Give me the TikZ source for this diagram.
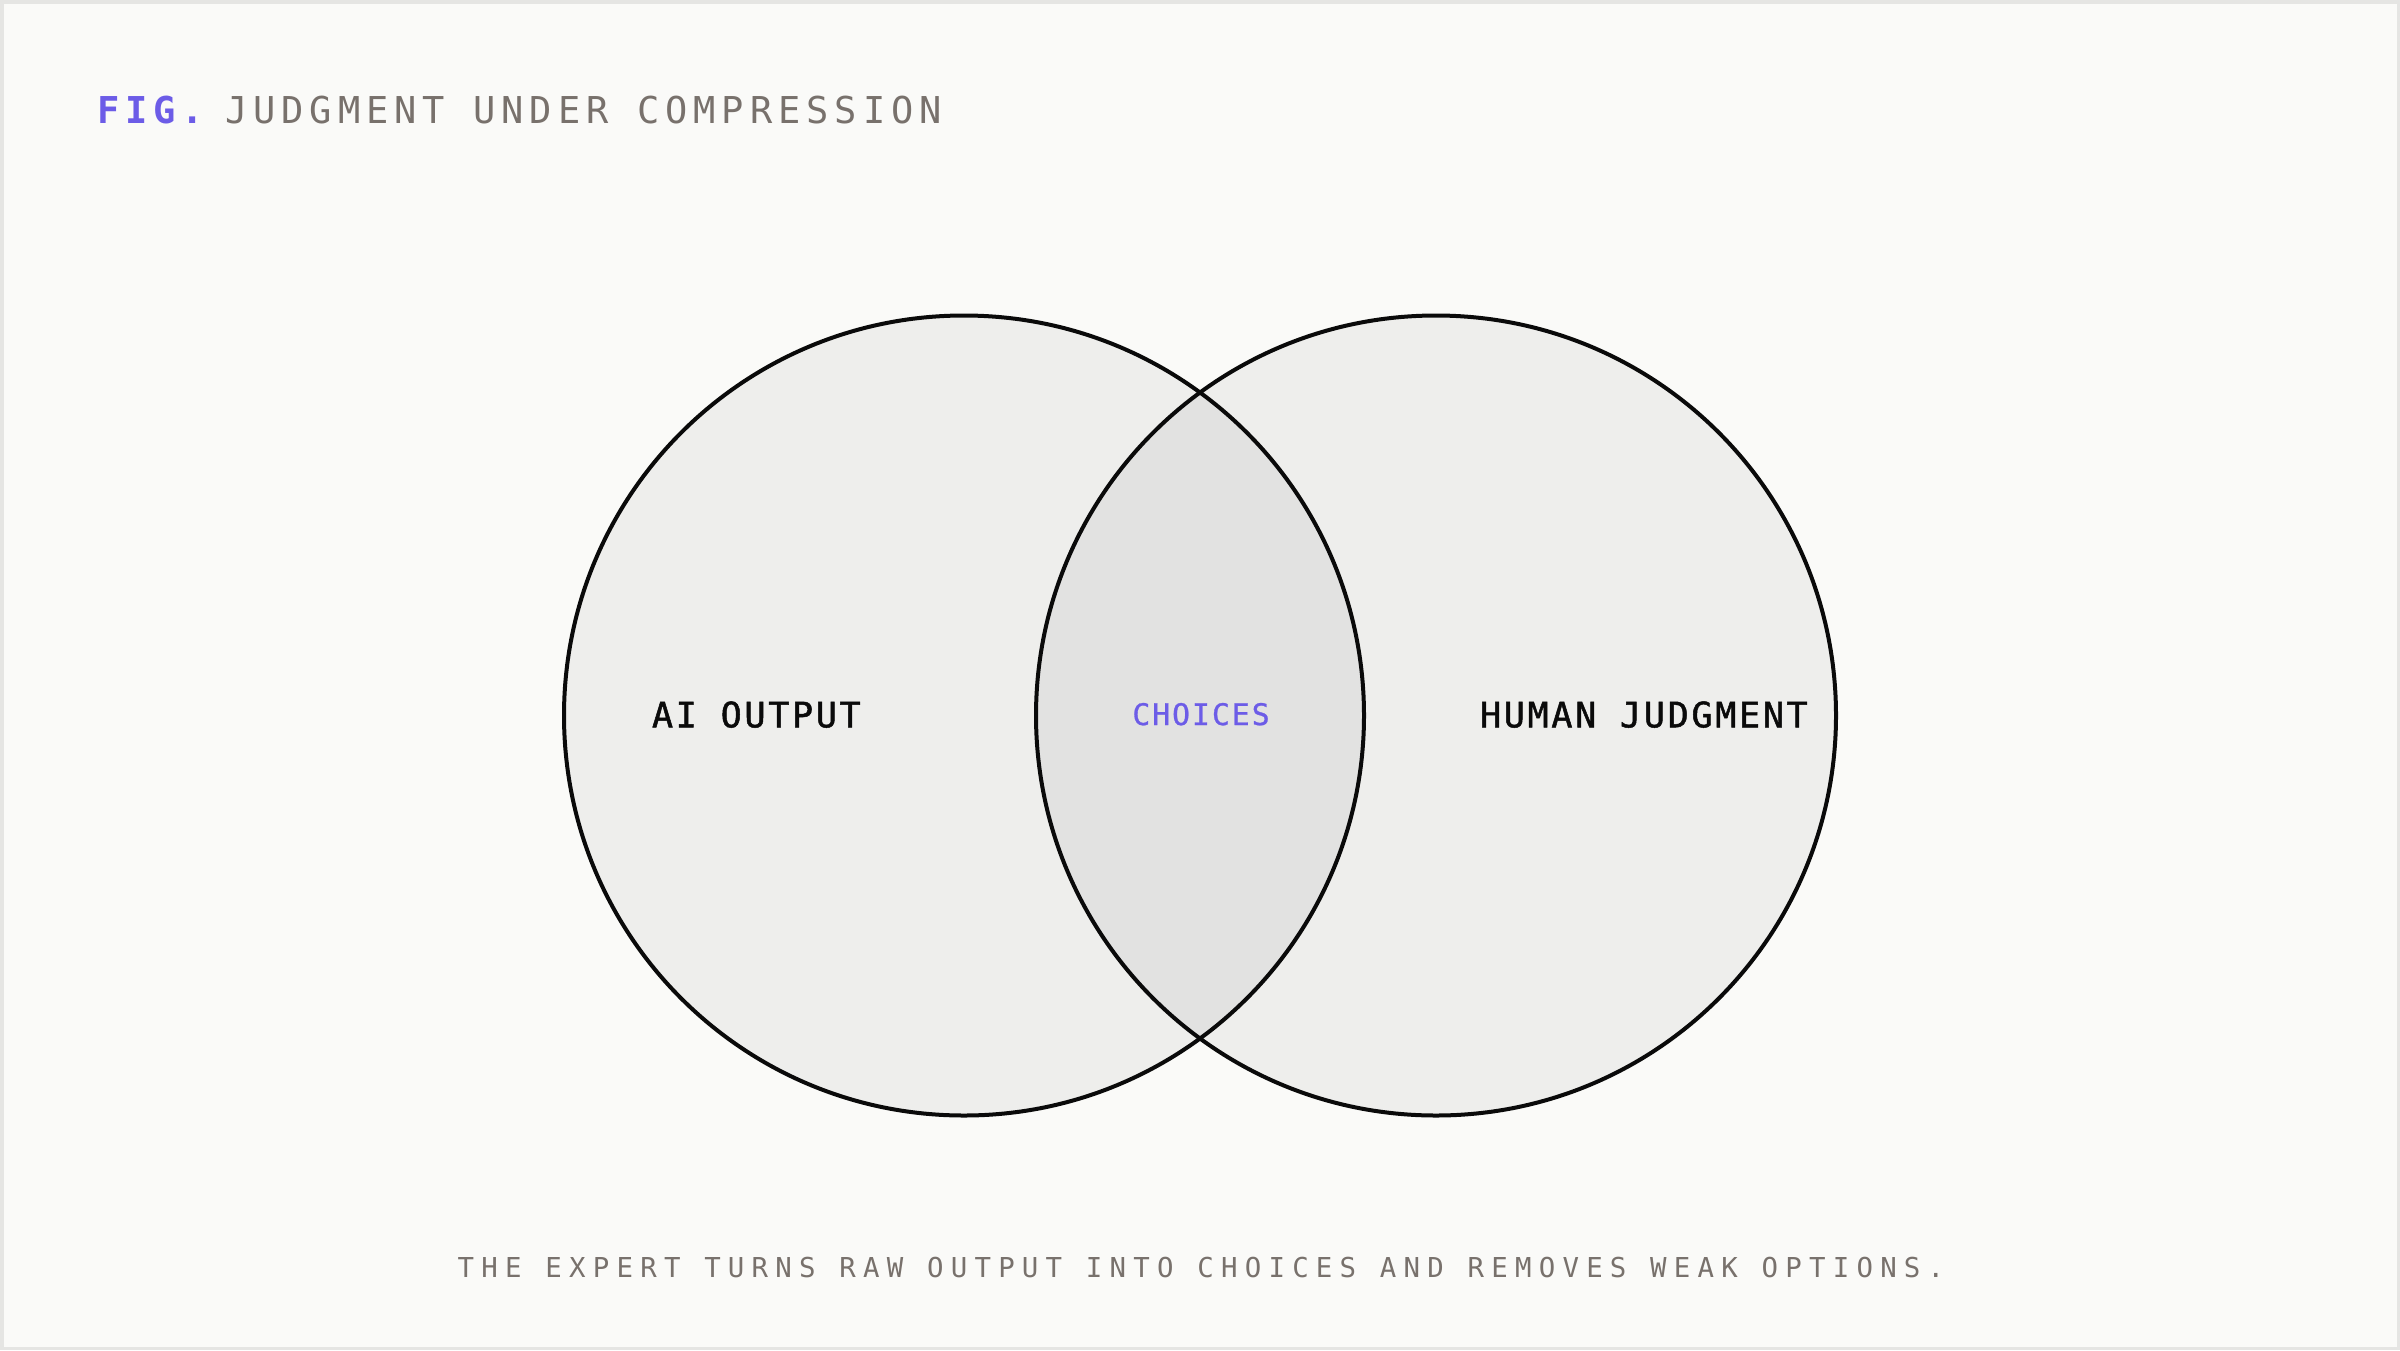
\documentclass[tikz,border=0pt]{standalone}
\usepackage{fontspec}
\newfontfamily\titlefont{DejaVu Sans Mono}[LetterSpace=16.2]
\newfontfamily\labelfont{DejaVu Sans Mono}[LetterSpace=7.8,FakeBold=1.4]
\newfontfamily\choicefont{DejaVu Sans Mono}[LetterSpace=6.8,FakeBold=0.9]
\newfontfamily\capfont{DejaVu Sans Mono}[LetterSpace=26.4]
\definecolor{bgc}{HTML}{FAFAF8}
\definecolor{framec}{HTML}{E5E5E3}
\definecolor{fillc}{HTML}{EEEEEC}
\definecolor{interc}{HTML}{E2E2E1}
\definecolor{accent}{HTML}{6C5CE7}
\definecolor{txtgray}{HTML}{78716C}
\definecolor{ink}{HTML}{0A0A0A}
\tikzset{
  venn/.style={circle, minimum size=800pt, inner sep=0pt, fill=fillc},
  vennline/.style={draw=ink, line width=4pt},
  txt/.style={inner sep=0pt, outer sep=0pt},
}
\begin{document}
\begin{tikzpicture}[x=1pt,y=-1pt]
\fill[framec] (0,0) rectangle (2400,1350);
\fill[bgc] (3.5,3.5) rectangle (2396.5,1346.5);
\useasboundingbox (0,0) rectangle (2400,1350);
% circles
\node[venn] (ai) at (964,715.5) {};
\node[venn] (hj) at (1436,715.5) {};
\begin{scope}
  \clip (ai.center) circle[radius=400pt];
  \fill[interc] (hj.center) circle[radius=400pt];
\end{scope}
\draw[vennline] (ai.center) circle[radius=400pt];
\draw[vennline] (hj.center) circle[radius=400pt];
% title
\node[txt, anchor=base west, text=accent] (fig) at (97,123.3) {\fontsize{37}{44}\titlefont\bfseries FIG.};
\node[txt, anchor=base west, text=txtgray] (title) at (225,123.3) {\fontsize{37}{44}\titlefont JUDGMENT UNDER COMPRESSION};
% labels
\node[txt, anchor=base west, text=ink] (ailab) at (652,727.3) {\fontsize{35}{42}\labelfont AI OUTPUT};
\node[txt, anchor=base, text=accent] (choices) at (1201,725) {\fontsize{29.7}{36}\choicefont CHOICES};
\node[txt, anchor=base west, text=ink] (hjlab) at (1480,727.3) {\fontsize{35}{42}\labelfont HUMAN JUDGMENT};
% caption
\node[txt, anchor=base, text=txtgray] (caption) at (1201,1277.3) {\fontsize{27.4}{33}\capfont THE EXPERT TURNS RAW OUTPUT INTO CHOICES AND REMOVES WEAK OPTIONS.};
\end{tikzpicture}
\end{document}
